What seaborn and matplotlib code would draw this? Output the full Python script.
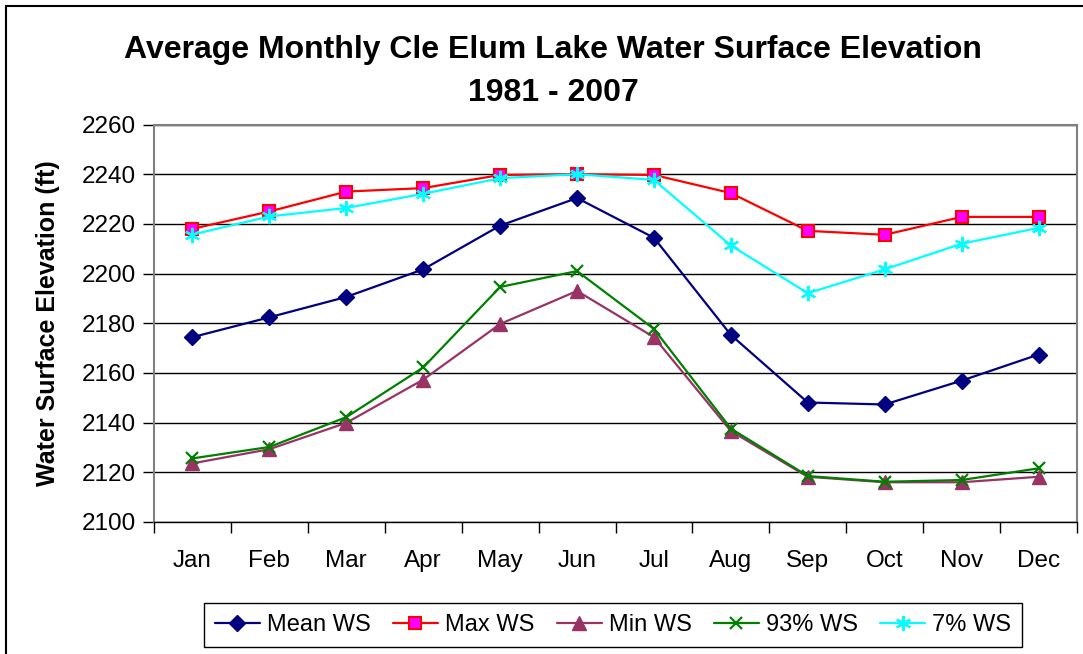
import numpy as np
import pandas as pd
import matplotlib
matplotlib.use("Agg")
import matplotlib.pyplot as plt
import seaborn as sns
from matplotlib.patches import Rectangle
from matplotlib.ticker import FixedLocator

months = ['Jan', 'Feb', 'Mar', 'Apr', 'May', 'Jun', 'Jul', 'Aug', 'Sep', 'Oct', 'Nov', 'Dec']
mean_ws = [2174.4, 2182.4, 2190.6, 2201.7, 2219.3, 2230.4, 2214.4, 2175.3, 2148.1, 2147.3, 2156.9, 2167.4]
max_ws = [2218.0, 2225.0, 2233.0, 2234.4, 2239.7, 2240.0, 2239.7, 2232.4, 2217.2, 2215.6, 2222.8, 2222.8]
min_ws = [2123.6, 2129.3, 2139.9, 2157.3, 2179.7, 2193.0, 2174.4, 2136.6, 2118.2, 2116.0, 2116.0, 2118.2]
p93_ws = [2125.6, 2130.2, 2142.2, 2162.2, 2194.6, 2201.0, 2177.7, 2137.6, 2118.5, 2116.2, 2116.9, 2121.6]
p7_ws = [2215.7, 2223.0, 2226.4, 2232.1, 2238.4, 2240.0, 2237.7, 2211.3, 2192.1, 2201.7, 2212.0, 2218.4]
series_names = ['Mean WS', 'Max WS', 'Min WS', '93% WS', '7% WS']
y_ticks = [2100, 2120, 2140, 2160, 2180, 2200, 2220, 2240, 2260]

sns.set_theme(style="white")
plt.rcParams['font.family'] = ['Liberation Sans', 'DejaVu Sans']
plt.rcParams['text.color'] = 'black'
plt.rcParams['axes.labelcolor'] = 'black'
plt.rcParams['xtick.color'] = 'black'
plt.rcParams['ytick.color'] = 'black'

W, H = 1083, 654
fig = plt.figure(figsize=(W / 100, H / 100), dpi=100)
ax = fig.add_axes([154 / W, 1 - 522 / H, (1077 - 154) / W, (522 - 124.5) / H])

styles = [
    dict(color='#000080', marker='D', markersize=8.5, markerfacecolor='#000080', markeredgecolor='#000080', markeredgewidth=1),
    dict(color='#FF0000', marker='s', markersize=8, markerfacecolor='#FF00FF', markeredgecolor='#FF0000', markeredgewidth=1.5),
    dict(color='#993366', marker='^', markersize=9.5, markerfacecolor='#993366', markeredgecolor='#993366', markeredgewidth=1),
    dict(color='#008000', marker='x', markersize=9, markerfacecolor='#008000', markeredgecolor='#008000', markeredgewidth=1.6),
    dict(color='#00FFFF', marker=(6, 2, 0), markersize=11, markerfacecolor='#00FFFF', markeredgecolor='#00FFFF', markeredgewidth=1.6),
]
data = [mean_ws, max_ws, min_ws, p93_ws, p7_ws]
x = np.arange(len(months))
for name, vals, st in zip(series_names, data, styles):
    df = pd.DataFrame({'x': x, 'y': vals})
    sns.lineplot(data=df, x='x', y='y', ax=ax, linewidth=1.6, label=name, **st)

if ax.get_legend() is not None:
    ax.get_legend().remove()

ax.set_xlim(-0.5, 11.5)
ax.set_ylim(2100, 2260)
ax.yaxis.set_major_locator(FixedLocator(y_ticks))
ax.set_yticklabels([str(t) for t in y_ticks], fontsize=17.5)
ax.xaxis.set_major_locator(FixedLocator(x))
ax.set_xticklabels(months, fontsize=17.5)
ax.xaxis.set_minor_locator(FixedLocator(np.arange(-0.5, 12, 1)))
ax.tick_params(axis='x', which='major', length=0, pad=20)
ax.tick_params(axis='x', which='minor', length=8, width=1, color='black', direction='out', bottom=True)
ax.tick_params(axis='y', which='major', length=8, width=1, color='black', direction='out', left=True, pad=5)
ax.yaxis.grid(True, color='black', linewidth=1)
ax.xaxis.grid(False)
ax.set_axisbelow(True)
for side in ['top', 'right', 'left']:
    ax.spines[side].set_color('#808080')
    ax.spines[side].set_linewidth(1.5)
ax.spines['bottom'].set_color('black')
ax.spines['bottom'].set_linewidth(1)
ax.set_xlabel('')
ax.set_ylabel('Water Surface Elevation (ft)', fontsize=18, fontweight='bold')
ax.yaxis.set_label_coords((60 - 154) / (1077 - 154), 0.5)

fig.text(553 / W, 1 - 50 / H, 'Average Monthly Cle Elum Lake Water Surface Elevation',
         ha='center', va='center', fontsize=23, fontweight='bold')
fig.text(553 / W, 1 - 93 / H, '1981 - 2007', ha='center', va='center', fontsize=23, fontweight='bold')

handles, labels = ax.get_legend_handles_labels()
leg = fig.legend(handles, labels, loc='center', bbox_to_anchor=(613 / W, 1 - 625 / H), ncol=5,
                 frameon=True, fancybox=False, edgecolor='black', framealpha=1, fontsize=17,
                 handlelength=1.9, handletextpad=0.3, columnspacing=0.95, borderpad=0.45)
leg.get_frame().set_linewidth(1)

fig.add_artist(Rectangle((6 / W, -0.05), 1.0, (1 - 6 / H) + 0.05, fill=False, edgecolor='black',
                         linewidth=1.5, transform=fig.transFigure, clip_on=False))

fig.savefig('out.png', dpi=100)
